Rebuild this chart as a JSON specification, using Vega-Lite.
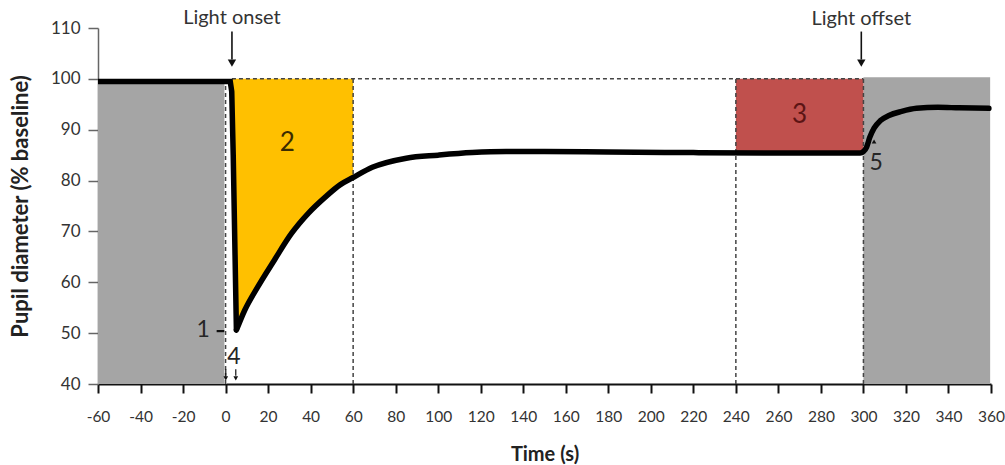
{
  "$schema": "https://vega.github.io/schema/vega-lite/v6.json",
  "width": 893,
  "height": 356,
  "autosize": "none",
  "padding": {"left": 98, "top": 28, "right": 14, "bottom": 81},
  "background": "white",
  "config": {
    "view": {"stroke": null},
    "font": "Lato",
    "axis": {"grid": false, "labelFont": "Lato", "titleFont": "Lato", "labelColor": "#333333", "titleColor": "#222222", "labelOverlap": false, "labelBound": false, "labelFlush": false}
  },
  "datasets": {
    "curve": [
      {"t": -60, "v": 99.5}, {"t": 2.2, "v": 99.5}, {"t": 2.9, "v": 97.5}, {"t": 3.6, "v": 85},
      {"t": 5.1, "v": 50.6}, {"t": 9, "v": 54.5},
      {"t": 15, "v": 59}, {"t": 23, "v": 64.4}, {"t": 31, "v": 69.6}, {"t": 39, "v": 73.6},
      {"t": 47, "v": 76.8}, {"t": 54, "v": 79.2}, {"t": 60, "v": 80.6}, {"t": 69, "v": 82.6},
      {"t": 85, "v": 84.4}, {"t": 100, "v": 85.0}, {"t": 116, "v": 85.5}, {"t": 132, "v": 85.7},
      {"t": 150, "v": 85.7}, {"t": 180, "v": 85.6}, {"t": 220, "v": 85.5}, {"t": 260, "v": 85.4},
      {"t": 298.5, "v": 85.4}, {"t": 300, "v": 85.7}, {"t": 301.5, "v": 86.6}, {"t": 303, "v": 88.5},
      {"t": 305, "v": 90.3}, {"t": 308, "v": 91.8}, {"t": 312, "v": 92.8}, {"t": 318, "v": 93.6},
      {"t": 325, "v": 94.2}, {"t": 335, "v": 94.4}, {"t": 345, "v": 94.3}, {"t": 359, "v": 94.2}
    ],
    "regions": [
      {"x": -60, "x2": -0.4, "y": 40, "y2": 99, "region": "dark"},
      {"x": 300, "x2": 359.6, "y": 40, "y2": 100.3, "region": "dark"},
      {"x": 240, "x2": 300, "y": 85.4, "y2": 100, "region": "late"}
    ],
    "vdash": [
      {"x": 0, "y": 40, "y2": 99},
      {"x": 60, "y": 40, "y2": 100},
      {"x": 240, "y": 40, "y2": 100},
      {"x": 300, "y": 40, "y2": 100}
    ],
    "hdash": [{"x": 3, "x2": 300, "y": 100}],
    "shafts": [
      {"x": 3, "y": 109.3, "y2": 103.8},
      {"x": 299, "y": 109.3, "y2": 103.8}
    ],
    "smallshafts": [
      {"x": 0.1, "y": 42.9, "y2": 41.6},
      {"x": 4.8, "y": 42.9, "y2": 41.6}
    ],
    "dash1": [{"x": -4.2, "x2": -0.6, "y": 50.4}],
    "bigheads": [{"x": 3, "y": 103.1}, {"x": 299, "y": 103.1}],
    "smallheads": [{"x": 0.1, "y": 41.1}, {"x": 4.8, "y": 41.1}],
    "upheads": [{"x": 305, "y": 87.7}],
    "titles": [
      {"label": "Light onset", "x": 3, "y": 112},
      {"label": "Light offset", "x": 299, "y": 111.7}
    ],
    "nums": [
      {"label": "1", "x": -10.5, "y": 50.6},
      {"label": "4", "x": 3.9, "y": 45.4},
      {"label": "5", "x": 306, "y": 83.5}
    ],
    "phases": [
      {"label": "2", "x": 29, "y": 87.4, "phase": "early"},
      {"label": "3", "x": 270, "y": 92.9, "phase": "late"}
    ]
  },
  "layer": [
    {
      "data": {"name": "regions"},
      "mark": {"type": "rect"},
      "encoding": {
        "x": {"field": "x", "type": "quantitative",
          "scale": {"domain": [-60, 360], "nice": false, "zero": false},
          "axis": {"values": [-60,-40,-20,0,20,40,60,80,100,120,140,160,180,200,220,240,260,280,300,320,340,360],
            "labelExpr": "datum.value",
            "title": "Time (s)", "titleFontSize": 20, "titleFontWeight": "bold", "titlePadding": 20,
            "labelFontSize": 15.5, "labelPadding": 16, "tickSize": 9, "tickWidth": 2, "tickColor": "#111111",
            "domainColor": "#111111", "domainWidth": 2.2}},
        "x2": {"field": "x2"},
        "y": {"field": "y", "type": "quantitative",
          "scale": {"domain": [40, 110], "nice": false, "zero": false},
          "axis": {"values": [40,50,60,70,80,90,100,110],
            "title": "Pupil diameter (% baseline)", "titleFontSize": 22, "titleFontWeight": "bold", "titlePadding": 18,
            "labelFontSize": 17, "labelPadding": 8, "tickSize": 10, "tickWidth": 1.5, "tickColor": "#666666",
            "domainColor": "#666666", "domainWidth": 1.5}},
        "y2": {"field": "y2"},
        "color": {"field": "region", "type": "nominal",
          "scale": {"domain": ["dark", "late"], "range": ["#a5a5a5", "#c0504d"]}, "legend": null}
      }
    },
    {
      "data": {"name": "curve"},
      "transform": [{"filter": "datum.t >= 2.9 && datum.t <= 60"}],
      "mark": {"type": "area", "color": "#ffc000", "interpolate": "monotone"},
      "encoding": {
        "x": {"field": "t", "type": "quantitative"},
        "y": {"field": "v", "type": "quantitative"},
        "y2": {"datum": 100}
      }
    },
    {
      "data": {"name": "vdash"},
      "transform": [{"filter": "datum.x == 0"}],
      "mark": {"type": "rule", "color": "#ffffff", "strokeWidth": 2},
      "encoding": {
        "x": {"field": "x", "type": "quantitative"},
        "y": {"field": "y", "type": "quantitative"},
        "y2": {"field": "y2"}
      }
    },
    {
      "data": {"name": "vdash"},
      "mark": {"type": "rule", "color": "#444444", "strokeWidth": 1.5, "strokeDash": [4, 3]},
      "encoding": {
        "x": {"field": "x", "type": "quantitative"},
        "y": {"field": "y", "type": "quantitative"},
        "y2": {"field": "y2"}
      }
    },
    {
      "data": {"name": "hdash"},
      "mark": {"type": "rule", "color": "#444444", "strokeWidth": 1.5, "strokeDash": [4, 3]},
      "encoding": {
        "x": {"field": "x", "type": "quantitative"},
        "x2": {"field": "x2"},
        "y": {"field": "y", "type": "quantitative"}
      }
    },
    {
      "data": {"name": "curve"},
      "transform": [{"filter": "datum.t <= 5.1"}],
      "mark": {"type": "line", "color": "#000000", "strokeWidth": 5.5, "interpolate": "linear", "strokeJoin": "miter", "strokeCap": "butt"},
      "encoding": {
        "x": {"field": "t", "type": "quantitative"},
        "y": {"field": "v", "type": "quantitative"}
      }
    },
    {
      "data": {"name": "curve"},
      "transform": [{"filter": "datum.t >= 5.1"}],
      "mark": {"type": "line", "color": "#000000", "strokeWidth": 5.5, "interpolate": "monotone", "strokeJoin": "round", "strokeCap": "round"},
      "encoding": {
        "x": {"field": "t", "type": "quantitative"},
        "y": {"field": "v", "type": "quantitative"}
      }
    },
    {
      "data": {"name": "shafts"},
      "mark": {"type": "rule", "color": "#111111", "strokeWidth": 1.6, "clip": false},
      "encoding": {
        "x": {"field": "x", "type": "quantitative"},
        "y": {"field": "y", "type": "quantitative"},
        "y2": {"field": "y2"}
      }
    },
    {
      "data": {"name": "smallshafts"},
      "mark": {"type": "rule", "color": "#111111", "strokeWidth": 1.2},
      "encoding": {
        "x": {"field": "x", "type": "quantitative"},
        "y": {"field": "y", "type": "quantitative"},
        "y2": {"field": "y2"}
      }
    },
    {
      "data": {"name": "dash1"},
      "mark": {"type": "rule", "color": "#111111", "strokeWidth": 2.2},
      "encoding": {
        "x": {"field": "x", "type": "quantitative"},
        "x2": {"field": "x2"},
        "y": {"field": "y", "type": "quantitative"}
      }
    },
    {
      "data": {"name": "bigheads"},
      "mark": {"type": "point", "shape": "triangle-down", "filled": true, "color": "#111111", "size": 70, "opacity": 1},
      "encoding": {
        "x": {"field": "x", "type": "quantitative"},
        "y": {"field": "y", "type": "quantitative"}
      }
    },
    {
      "data": {"name": "smallheads"},
      "mark": {"type": "point", "shape": "triangle-down", "filled": true, "color": "#111111", "size": 22, "opacity": 1},
      "encoding": {
        "x": {"field": "x", "type": "quantitative"},
        "y": {"field": "y", "type": "quantitative"}
      }
    },
    {
      "data": {"name": "upheads"},
      "mark": {"type": "point", "shape": "triangle-up", "filled": true, "color": "#111111", "size": 22, "opacity": 1},
      "encoding": {
        "x": {"field": "x", "type": "quantitative"},
        "y": {"field": "y", "type": "quantitative"}
      }
    },
    {
      "data": {"name": "titles"},
      "mark": {"type": "text", "fontSize": 20, "color": "#333333", "font": "Lato", "baseline": "middle", "align": "center", "clip": false},
      "encoding": {
        "x": {"field": "x", "type": "quantitative"},
        "y": {"field": "y", "type": "quantitative"},
        "text": {"field": "label"}
      }
    },
    {
      "data": {"name": "nums"},
      "mark": {"type": "text", "fontSize": 23, "color": "#262626", "font": "Lato", "baseline": "middle", "align": "center"},
      "encoding": {
        "x": {"field": "x", "type": "quantitative"},
        "y": {"field": "y", "type": "quantitative"},
        "text": {"field": "label"}
      }
    },
    {
      "data": {"name": "phases"},
      "transform": [{"filter": "datum.phase == 'early'"}],
      "mark": {"type": "text", "fontSize": 26, "font": "Lato", "baseline": "middle", "align": "center", "color": "#3b2c00"},
      "encoding": {
        "x": {"field": "x", "type": "quantitative"},
        "y": {"field": "y", "type": "quantitative"},
        "text": {"field": "label"}
      }
    },
    {
      "data": {"name": "phases"},
      "transform": [{"filter": "datum.phase == 'late'"}],
      "mark": {"type": "text", "fontSize": 26, "font": "Lato", "baseline": "middle", "align": "center", "color": "#5c1414"},
      "encoding": {
        "x": {"field": "x", "type": "quantitative"},
        "y": {"field": "y", "type": "quantitative"},
        "text": {"field": "label"}
      }
    }
  ]
}
